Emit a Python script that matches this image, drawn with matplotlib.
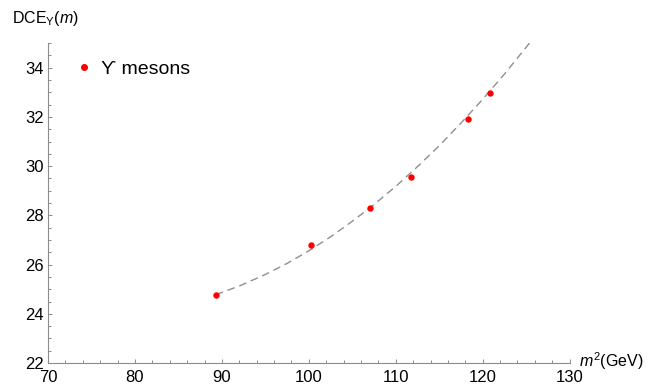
import matplotlib.pyplot as plt
from matplotlib.ticker import MultipleLocator

plt.rcParams['font.family'] = ['Liberation Sans', 'DejaVu Sans']
plt.rcParams['mathtext.fontset'] = 'custom'
plt.rcParams['mathtext.rm'] = 'Liberation Sans'
plt.rcParams['mathtext.it'] = 'Liberation Sans:italic'

# squared masses of the Upsilon states and their DCE values
m2 = [89.3, 100.3, 107.0, 111.7, 118.3, 120.8]
dce = [24.78, 26.8, 28.3, 29.57, 31.93, 32.99]

# fitted trend (dashed)
fit_m2 = [89.3, 92.0, 95.0, 97.5, 100.0, 102.5, 105.0, 107.5, 110.0,
          112.5, 115.0, 117.5, 120.0, 122.5, 125.5]
fit_dce = [24.78, 25.13, 25.6, 26.05, 26.56, 27.13, 27.76, 28.44, 29.18,
           29.98, 30.83, 31.75, 32.72, 33.74, 35.05]

fig = plt.figure(figsize=(6.67, 3.85), dpi=100)
ax = fig.add_axes([0.072, 0.057, 0.782, 0.831])

ax.plot(fit_m2, fit_dce, color='#8f8f8f', lw=1.0, dashes=(5.5, 3.5), zorder=2)
ax.plot(m2, dce, 'o', color='#ff0000', ms=4.6, mec='none', zorder=3,
        label='\u03d2 mesons')

ax.set_xlim(70, 130)
ax.set_ylim(22, 35)
ax.xaxis.set_major_locator(MultipleLocator(10))
ax.xaxis.set_minor_locator(MultipleLocator(2))
ax.yaxis.set_major_locator(MultipleLocator(2))
ax.yaxis.set_minor_locator(MultipleLocator(0.5))

for s in ['top', 'right']:
    ax.spines[s].set_visible(False)
for s in ['left', 'bottom']:
    ax.spines[s].set_color('#8c8c8c')
    ax.spines[s].set_linewidth(0.8)

ax.tick_params(which='both', direction='in', color='#8c8c8c', width=0.7,
               labelsize=12, labelcolor='black')
ax.tick_params(which='major', length=3.2)
ax.tick_params(which='minor', length=1.9)
ax.tick_params(axis='x', pad=5)
ax.tick_params(axis='y', pad=3)

ax.text(-0.069, 1.0625, r'DCE$_{\Upsilon}$($m$)', transform=ax.transAxes,
        fontsize=11.5, ha='left', va='baseline')
ax.text(1.018, -0.0125, r'$m^2$(GeV)', transform=ax.transAxes,
        fontsize=11.5, ha='left', va='baseline')

ax.legend(loc='upper left', bbox_to_anchor=(0.02, 1.0), frameon=False,
          fontsize=14, handlelength=0.8, handletextpad=0.5, markerscale=1.1)

fig.savefig('out.png', dpi=100)
